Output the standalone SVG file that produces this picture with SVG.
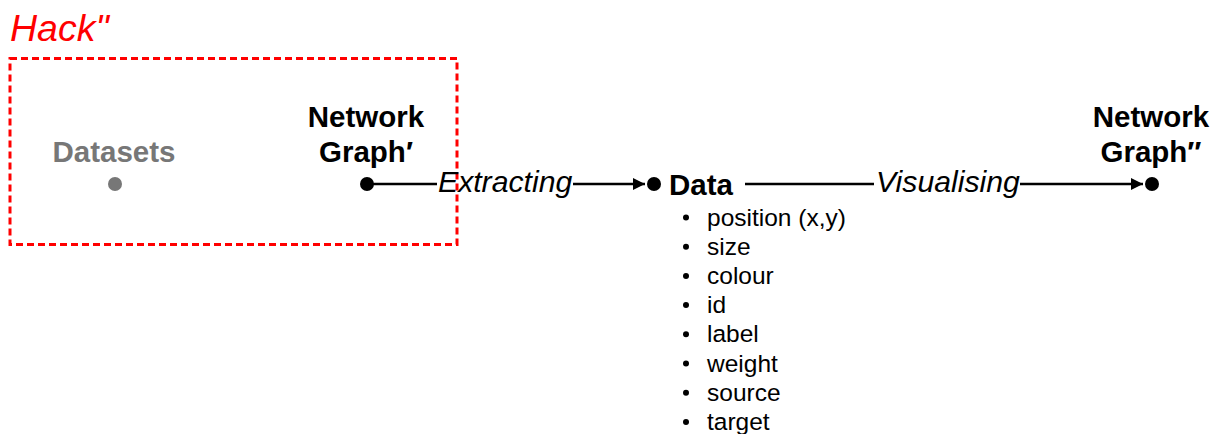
<svg xmlns="http://www.w3.org/2000/svg" width="1222" height="434" viewBox="0 0 1222 434">
<style>
.t{font-family:"Liberation Sans",Arial,sans-serif}
.b{font-weight:bold;font-size:29.5px;fill:#000}
.i{font-style:italic;font-size:30.2px;fill:#000}
.li{font-size:24.5px;fill:#000}
.ln{stroke:#000;stroke-width:2.5;fill:none}
</style>
<defs>
<marker id="ah" viewBox="0 0 10 10" refX="10" refY="5" markerWidth="5" markerHeight="5" markerUnits="strokeWidth" orient="auto">
<path d="M0,0 L10,5 L0,10 z" fill="#000"/>
</marker>
</defs>
<g id="hack">
<text class="t" x="10" y="41" font-size="37.5" font-style="italic" fill="#ff0000">Hack"</text>
<rect x="10" y="58.5" width="447" height="186" fill="none" stroke="#ff0000" stroke-width="3" stroke-dasharray="7 4"/>
</g>
<g id="datasets">
<text class="t b" x="114" y="162" text-anchor="middle" style="fill:#777">Datasets</text>
<circle cx="115" cy="184" r="7" fill="#777"/>
</g>
<g id="graph1">
<text class="t b" x="366" y="127" text-anchor="middle">Network</text>
<text class="t b" x="366" y="162" text-anchor="middle">Graph′</text>
<circle cx="367" cy="184" r="7" fill="#000"/>
</g>
<g id="data">
<circle cx="654" cy="184" r="7" fill="#000"/>
<text class="t b" x="669" y="195">Data</text>
<g class="t li">
<text x="707" y="225.5">position (x,y)</text>
<text x="707" y="254.7">size</text>
<text x="707" y="283.9">colour</text>
<text x="707" y="313.1">id</text>
<text x="707" y="342.3">label</text>
<text x="707" y="371.5">weight</text>
<text x="707" y="400.7">source</text>
<text x="707" y="429.9">target</text>
</g>
<g fill="#000">
<circle cx="686" cy="217.5" r="3"/>
<circle cx="686" cy="246.7" r="3"/>
<circle cx="686" cy="275.9" r="3"/>
<circle cx="686" cy="305.1" r="3"/>
<circle cx="686" cy="334.3" r="3"/>
<circle cx="686" cy="363.5" r="3"/>
<circle cx="686" cy="392.7" r="3"/>
<circle cx="686" cy="421.9" r="3"/>
</g>
</g>
<g id="graph2">
<text class="t b" x="1151" y="127" text-anchor="middle">Network</text>
<text class="t b" x="1151" y="162" text-anchor="middle">Graph″</text>
<circle cx="1152" cy="184" r="7" fill="#000"/>
</g>
<g id="connectors">
<line class="ln" x1="367" y1="184" x2="437" y2="184"/>
<text class="t i" x="438" y="192">Extracting</text>
<line class="ln" x1="573" y1="184" x2="645" y2="184" marker-end="url(#ah)"/>
<line class="ln" x1="745" y1="184" x2="874" y2="184"/>
<text class="t i" x="876" y="192">Visualising</text>
<line class="ln" x1="1020" y1="184" x2="1143" y2="184" marker-end="url(#ah)"/>
</g>
</svg>
